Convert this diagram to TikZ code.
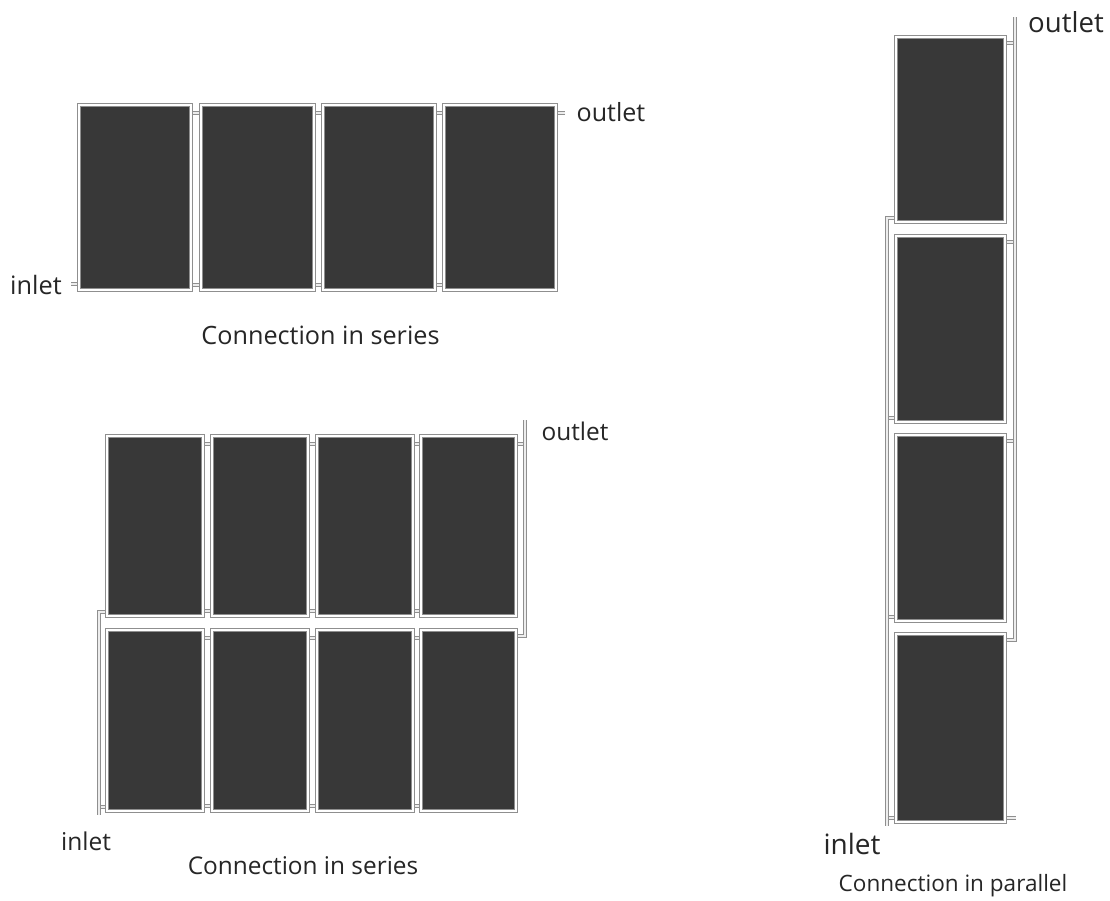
\documentclass[tikz,border=0pt]{standalone}
\usepackage{fontspec}
\setmainfont{Open Sans}
\usetikzlibrary{calc}
\definecolor{paneldark}{HTML}{383838}
\definecolor{pipeedge}{HTML}{8F8F8F}
\definecolor{pipecore}{HTML}{EDEDED}
\definecolor{labelink}{HTML}{262626}
\pgfdeclarelayer{pipes}
\pgfsetlayers{pipes,main}
\tikzset{
  x=0.75pt,y=-0.75pt,
  panelbox/.style={rectangle,inner sep=0pt,outer sep=0pt,fill=paneldark,draw=pipeedge,
    line width=0.95pt,double=white,double distance=1.5pt},
  pipe/.style={draw=pipeedge,line width=0.9pt,double=pipecore,double distance=1.4pt},
  lbl/.style={inner sep=0pt,text=labelink,font=\fontsize{#1}{#1}\selectfont},
}
% name, dark x0, y0, x1, y1 ; the frame centre line lies 2.2 px outside the dark area
\newcommand{\panelnode}[5]{%
  \node[panelbox,minimum width={(#4-#2+4.4)*0.75pt},minimum height={(#5-#3+4.4)*0.75pt}]
    (#1) at ({(#2+#4)/2},{(#3+#5)/2}) {};}
% stubs joining two neighbouring panels at top and bottom
\newcommand{\joinpair}[2]{%
  \draw[pipe] ($(#1.north east)+(0,8)$) -- ($(#2.north west)+(0,8)$);
  \draw[pipe] ($(#1.south east)+(0,-5)$) -- ($(#2.south west)+(0,-5)$);}
\begin{document}
\begin{tikzpicture}
\useasboundingbox (0,0) rectangle (1110,900);

% panels
\panelnode{a1}{81}{107}{189}{288}
\panelnode{a2}{203}{107}{312}{288}
\panelnode{a3}{325}{107}{433}{288}
\panelnode{a4}{446}{107}{554}{288}
\panelnode{u1}{109}{438}{201}{614}
\panelnode{u2}{214}{438}{306}{614}
\panelnode{u3}{319}{438}{411}{614}
\panelnode{u4}{423}{438}{514}{614}
\panelnode{l1}{109}{632}{201}{809}
\panelnode{l2}{214}{632}{306}{809}
\panelnode{l3}{319}{632}{411}{809}
\panelnode{l4}{423}{632}{514}{809}
\panelnode{r1}{898}{39}{1003}{220}
\panelnode{r2}{898}{238}{1003}{420}
\panelnode{r3}{898}{437}{1003}{619}
\panelnode{r4}{898}{636}{1003}{820}

% free pipe ends
\coordinate (aIn) at (71,284);
\coordinate (aOut) at (565,113);
\coordinate (bOutTop) at (525,420);
\coordinate (bInEnd) at (99,815);
\coordinate (cOutTop) at (1015,17);
\coordinate (cInEnd) at (887,826);

\begin{pgfonlayer}{pipes}
\fill[white] (0,0) rectangle (1110,900);
% group A
\joinpair{a1}{a2}\joinpair{a2}{a3}\joinpair{a3}{a4}
\draw[pipe] (aIn) -- (aIn -| a1.west);
\draw[pipe] (aOut) -- (aOut -| a4.east);
% group B
\joinpair{u1}{u2}\joinpair{u2}{u3}\joinpair{u3}{u4}
\joinpair{l1}{l2}\joinpair{l2}{l3}\joinpair{l3}{l4}
\draw[pipe] ($(u4.north east)+(0,8)$) -- ++(10,0);
\draw[pipe] (bOutTop) |- ($(l4.north east)+(0,6)$);
\draw[pipe] ($(l1.south west)+(0,-4)$) -- ++(-8,0);
\draw[pipe] ($(u1.south west)+(0,-4)$) -| (bInEnd);
% group C
\foreach \p in {r1,r2,r3}{
  \draw[pipe] ($(\p.north east)+(0,6)$) -- ++(10,0);
}
\draw[pipe] (cOutTop) |- ($(r4.north east)+(0,6)$);
\foreach \p in {r2,r3,r4}{
  \draw[pipe] ($(\p.south west)+(0,-4)$) -- ++(-8,0);
}
\draw[pipe] ($(r1.south west)+(0,-4)$) -| (cInEnd);
\draw[pipe] ($(r4.south east)+(0,-4)$) -- ++(11,0);
\end{pgfonlayer}

% labels
\node[lbl=18.8] (t1) at (611,112) {outlet};
\node[lbl=19] (t2) at (36,285) {inlet};
\node[lbl=18.9] (t3) at (320.5,335) {Connection in series};
\node[lbl=18.3] (t4) at (575,431) {outlet};
\node[lbl=18.4] (t5) at (86,841) {inlet};
\node[lbl=18.3] (t6) at (303,866) {Connection in series};
\node[lbl=20.7] (t7) at (1066,22) {outlet};
\node[lbl=21] (t8) at (852,844) {inlet};
\node[lbl=16.9] (t9) at (953,886) {Connection in parallel};
\end{tikzpicture}
\end{document}
